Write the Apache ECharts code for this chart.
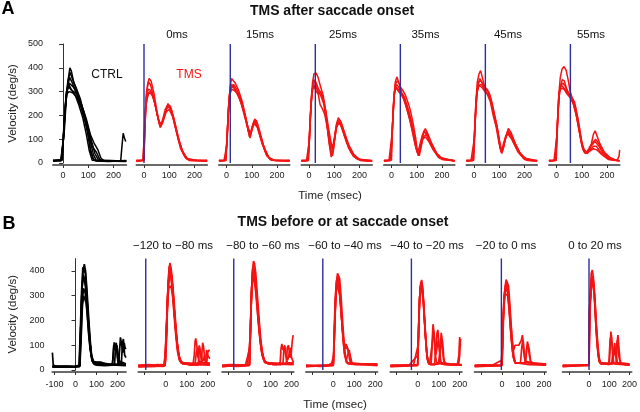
<!DOCTYPE html>
<html><head><meta charset="utf-8">
<script src="https://cdn.jsdelivr.net/npm/echarts@6/dist/echarts.min.js"></script>
<style>html,body{margin:0;padding:0;background:#fff}#c{width:640px;height:412px}</style>
</head><body><div id="c"></div>
<script>
// ---------- DATA (time ms, velocity deg/s) ----------
const tracesA1 = [
 [[-40,8],[-25,10],[-10,8],[-4,12],[4,120],[12,260],[20,350],[27,400],[33,385],[42,340],[55,300],[70,255],[85,195],[98,130],[108,60],[118,18],[130,8],[180,6],[228,8],[233,70],[238,125],[243,105],[248,90]],
 [[-40,10],[-8,12],[0,80],[8,230],[18,320],[26,360],[35,340],[50,300],[65,262],[80,220],[95,160],[108,90],[120,35],[132,10],[200,8],[250,10]],
 [[-40,12],[-6,10],[3,150],[12,280],[22,330],[32,310],[48,285],[62,245],[78,190],[92,120],[104,50],[115,12],[160,8],[250,8]],
 [[-40,8],[-4,14],[5,170],[14,290],[24,300],[38,295],[55,275],[72,230],[88,170],[103,110],[118,65],[132,45],[145,15],[160,8],[250,6]],
 [[-40,10],[-7,10],[2,110],[10,260],[19,345],[28,380],[38,350],[52,315],[68,270],[84,200],[98,120],[110,45],[122,12],[250,8]],
 [[-40,8],[-3,15],[6,200],[15,310],[25,335],[40,320],[58,290],[75,240],[92,185],[108,120],[122,85],[138,55],[150,20],[165,8],[250,8]],
 [[-40,9],[-5,12],[4,160],[13,300],[22,320],[34,305],[50,295],[66,260],[82,215],[98,150],[112,95],[126,40],[140,12],[250,8]]
];
const tracesA2 = [
 [[-30,8],[-10,10],[-2,12],[3,120],[8,260],[14,330],[20,355],[28,345],[40,290],[52,210],[62,160],[72,175],[84,225],[95,245],[106,230],[120,170],[138,90],[155,40],[172,15],[200,10],[250,8]],
 [[-30,10],[-3,12],[2,150],[6,230],[12,270],[20,295],[30,290],[42,255],[55,190],[65,150],[76,180],[90,230],[100,235],[112,205],[126,140],[145,60],[165,20],[190,10],[250,12]],
 [[-30,6],[0,14],[4,200],[10,300],[18,340],[26,330],[38,275],[50,215],[60,170],[70,165],[82,205],[95,250],[108,225],[124,160],[142,80],[160,30],[180,10],[250,8]],
 [[-30,12],[-5,10],[3,140],[8,240],[15,290],[24,300],[36,280],[48,230],[58,180],[68,160],[80,195],[92,240],[104,240],[118,190],[135,110],[152,50],[170,18],[210,12],[250,8]],
 [[-30,8],[0,10],[4,180],[10,280],[17,310],[27,305],[40,265],[54,195],[64,150],[74,170],[88,215],[100,225],[115,190],[132,120],[150,55],[170,20],[195,12],[250,10]]
];
const tracesA3 = [
 [[-30,8],[-10,10],[-4,14],[2,80],[8,220],[14,320],[20,355],[26,362],[35,335],[48,305],[62,260],[76,195],[88,130],[95,115],[104,160],[112,185],[122,165],[138,100],[155,45],[172,15],[200,10],[250,8]],
 [[-30,10],[-6,10],[0,60],[6,190],[12,290],[20,320],[30,315],[44,290],[58,250],[72,195],[85,140],[93,105],[102,145],[110,170],[120,160],[136,105],[152,55],[170,20],[195,10],[250,8]],
 [[-30,8],[-3,12],[3,120],[10,260],[18,315],[28,330],[40,310],[55,275],[70,215],[84,155],[94,125],[104,160],[114,175],[126,145],[142,80],[160,30],[180,12],[250,10]],
 [[-30,12],[-5,10],[2,100],[8,240],[16,300],[24,310],[36,300],[50,280],[64,235],[78,175],[90,120],[98,130],[108,175],[118,180],[130,140],[148,70],[166,25],[190,10],[250,12]],
 [[-30,8],[-2,10],[4,150],[11,280],[19,330],[27,325],[40,295],[54,265],[68,220],[82,160],[91,110],[100,140],[110,165],[122,150],[140,85],[158,35],[178,12],[250,8]]
];
const tracesA4 = [
 [[-30,8],[-10,10],[-4,14],[2,100],[8,240],[14,340],[20,375],[28,378],[36,360],[46,320],[56,285],[66,220],[76,120],[84,60],[92,35],[100,90],[108,160],[116,190],[126,175],[140,130],[158,75],[178,35],[200,15],[230,8],[250,8]],
 [[-30,10],[-6,10],[0,60],[6,200],[12,300],[18,340],[26,335],[36,300],[46,285],[58,250],[70,170],[80,80],[88,25],[96,50],[106,140],[116,175],[128,160],[142,110],[160,60],[182,25],[210,10],[250,8]],
 [[-30,8],[-3,12],[3,150],[10,280],[17,330],[25,310],[35,290],[45,300],[56,270],[68,210],[80,130],[90,70],[98,80],[108,150],[120,170],[134,140],[150,85],[170,40],[195,15],[250,10]],
 [[-30,12],[-5,10],[2,120],[8,250],[15,310],[24,330],[34,305],[44,245],[52,230],[62,205],[74,140],[85,60],[93,30],[102,100],[112,165],[124,165],[138,120],[156,65],[176,28],[205,10],[250,8]],
 [[-30,8],[-2,10],[4,170],[11,300],[19,350],[27,340],[38,310],[50,290],[62,240],[73,160],[83,95],[92,55],[101,110],[111,170],[121,180],[133,150],[148,95],[166,45],[188,18],[250,10]]
];
const tracesA5 = [
 [[-30,8],[-10,10],[-3,14],[3,130],[9,270],[15,340],[21,362],[27,355],[35,320],[45,305],[55,285],[65,255],[75,220],[85,170],[95,110],[102,55],[110,30],[118,70],[126,125],[134,145],[145,120],[160,80],[180,40],[205,15],[250,8]],
 [[-30,10],[-5,10],[1,90],[7,230],[13,310],[20,330],[28,320],[38,295],[50,280],[62,240],[74,195],[86,140],[97,70],[106,30],[114,60],[124,100],[134,110],[148,90],[165,55],[190,20],[250,10]],
 [[-30,8],[-2,12],[4,160],[11,290],[18,320],[26,310],[36,300],[48,270],[60,230],[72,185],[84,130],[94,75],[104,40],[113,80],[123,120],[133,130],[146,105],[162,65],[185,25],[250,8]],
 [[-30,12],[-4,10],[2,110],[8,250],[15,330],[23,345],[32,330],[42,290],[54,265],[66,225],[78,175],[90,110],[100,50],[108,35],[117,90],[128,135],[140,125],[155,90],[175,45],[200,15],[250,10]],
 [[-30,8],[0,14],[5,180],[12,300],[19,315],[28,300],[40,285],[52,260],[64,215],[76,165],[88,105],[98,60],[107,45],[116,75],[126,110],[137,120],[150,95],[168,55],[192,20],[250,8]]
];
const tracesA6 = [
 [[-30,8],[-12,10],[-5,14],[1,100],[7,250],[13,340],[20,375],[26,388],[33,360],[42,320],[52,310],[62,290],[72,250],[82,200],[92,150],[100,90],[108,45],[116,60],[126,110],[136,145],[146,130],[160,90],[180,45],[205,18],[230,10],[250,8]],
 [[-30,10],[-6,10],[0,70],[6,200],[12,300],[19,340],[27,345],[36,330],[46,310],[56,300],[66,270],[78,215],[90,160],[100,100],[108,55],[117,70],[128,115],[138,130],[150,115],[166,75],[186,35],[210,12],[250,8]],
 [[-30,8],[-3,12],[3,150],[10,280],[17,320],[25,330],[34,325],[44,300],[56,290],[68,255],[80,195],[92,140],[102,75],[110,40],[120,85],[131,125],[142,120],[156,85],[175,45],[200,15],[250,10]],
 [[-30,12],[-4,10],[2,120],[8,260],[15,330],[23,355],[31,340],[40,310],[50,295],[60,285],[72,240],[84,180],[96,120],[105,60],[113,50],[123,100],[134,135],[145,125],[160,85],[182,40],[208,12],[250,8]],
 [[-30,8],[-1,12],[5,180],[12,300],[20,325],[29,320],[40,305],[52,290],[64,260],[76,200],[88,150],[98,90],[106,50],[115,75],[126,115],[136,120],[150,100],[170,60],[195,22],[250,10]]
];
const tracesA7 = [
 [[-30,8],[-10,10],[-4,14],[2,120],[8,270],[15,360],[22,395],[30,405],[38,390],[46,350],[54,300],[62,275],[72,255],[82,200],[92,140],[100,90],[108,60],[118,45],[128,55],[138,80],[146,120],[153,135],[160,115],[172,80],[190,45],[210,25],[235,12],[250,10]],
 [[-30,10],[-6,10],[0,70],[6,210],[12,300],[19,330],[27,335],[36,320],[45,300],[55,280],[65,260],[75,235],[86,180],[96,110],[104,60],[114,40],[126,50],[140,75],[152,90],[165,75],[185,40],[210,18],[250,10]],
 [[-30,8],[-3,12],[3,160],[10,290],[17,330],[25,320],[34,310],[44,295],[56,275],[68,245],[80,190],[92,120],[101,70],[110,45],[122,40],[134,55],[146,70],[158,70],[175,45],[200,20],[250,8]],
 [[-30,12],[-4,10],[2,130],[8,260],[15,320],[23,350],[31,345],[40,310],[50,290],[62,270],[74,230],[86,160],[97,95],[106,55],[116,40],[128,60],[142,85],[155,100],[168,80],[188,40],[215,15],[240,10],[248,30],[250,55]],
 [[-30,8],[-1,12],[5,190],[12,300],[20,315],[30,310],[42,290],[54,275],[66,250],[78,205],[90,140],[100,80],[110,50],[120,45],[132,50],[146,60],[160,55],[180,35],[205,15],[250,8]]
];
const tracesB1 = [
 [[-110,70],[-106,20],[-90,15],[-50,14],[0,14],[18,20],[24,150],[30,300],[36,400],[42,428],[48,400],[54,330],[60,250],[66,170],[72,100],[78,50],[86,25],[100,20],[140,18],[175,20],[180,60],[184,112],[190,80],[196,100],[202,30],[210,25],[240,20]],
 [[-110,15],[-60,12],[0,15],[20,18],[26,140],[32,270],[38,330],[44,320],[50,290],[56,230],[62,160],[70,90],[78,40],[90,28],[115,30],[140,22],[205,25],[210,80],[214,132],[220,100],[226,70],[232,110],[236,90],[240,85]],
 [[-110,14],[-40,16],[0,12],[19,16],[25,170],[31,330],[37,385],[43,370],[49,340],[55,280],[61,200],[68,120],[75,60],[84,30],[120,25],[170,22],[186,25],[192,105],[198,95],[204,60],[210,35],[240,25]],
 [[-110,12],[0,14],[21,16],[27,130],[33,260],[39,300],[45,295],[51,270],[57,210],[63,140],[70,80],[80,35],[92,22],[160,20],[200,20],[218,22],[224,110],[228,125],[234,60],[240,50]],
 [[-110,16],[0,15],[17,18],[23,160],[29,320],[35,415],[41,420],[47,390],[53,320],[59,230],[65,150],[72,80],[80,35],[130,28],[176,22],[182,100],[188,90],[194,110],[200,50],[206,22],[240,22]],
 [[-110,14],[0,12],[20,14],[26,200],[32,350],[38,370],[44,355],[50,320],[56,260],[62,190],[68,120],[76,60],[88,30],[120,32],[150,22],[240,18]]
];
const tracesB2 = [
 [[-130,15],[-100,20],[-60,18],[-20,22],[-7,20],[0,40],[5,150],[10,300],[15,400],[20,432],[26,410],[32,360],[38,300],[44,230],[50,160],[56,100],[62,60],[70,35],[80,25],[130,22],[136,60],[140,115],[143,128],[148,100],[154,50],[160,100],[166,60],[172,30],[210,25]],
 [[-130,18],[-90,15],[-40,22],[-5,20],[2,100],[8,260],[14,360],[20,380],[26,370],[32,330],[38,270],[44,200],[50,140],[58,80],[66,45],[76,30],[120,25],[150,28],[170,30],[176,110],[180,95],[186,50],[192,30],[210,28]],
 [[-130,12],[-70,18],[-10,15],[1,80],[7,240],[13,350],[19,410],[25,400],[31,350],[37,290],[43,220],[50,150],[58,90],[66,50],[75,30],[110,22],[155,20],[160,95],[164,102],[170,60],[176,30],[195,25],[200,70],[205,80],[210,78]],
 [[-130,20],[-80,22],[-30,18],[-3,18],[4,180],[10,320],[16,390],[22,400],[28,380],[34,320],[40,250],[46,180],[54,110],[62,60],[72,35],[90,25],[125,20],[170,22],[190,30],[195,81],[200,60],[210,45]],
 [[-130,15],[-50,15],[-2,22],[3,140],[9,280],[15,330],[21,340],[27,330],[33,300],[40,240],[48,160],[56,90],[64,45],[74,28],[140,25],[146,70],[152,90],[158,40],[165,22],[210,20]],
 [[-130,18],[-4,18],[5,200],[11,340],[17,420],[23,415],[29,380],[35,310],[42,230],[50,140],[58,80],[66,45],[78,30],[150,25],[180,40],[185,60],[190,25],[210,20]],
 [[-130,14],[-6,16],[3,160],[9,300],[15,370],[21,390],[27,360],[33,300],[40,220],[48,140],[56,75],[66,38],[80,26],[210,22]]
];
const tracesB3 = [
 [[-130,15],[-80,18],[-30,20],[0,22],[4,140],[9,300],[14,400],[19,440],[24,430],[30,390],[36,320],[42,250],[48,180],[54,120],[62,70],[72,35],[90,25],[130,22],[146,30],[150,85],[154,105],[160,80],[166,95],[172,60],[180,30],[210,25]],
 [[-130,18],[-60,15],[-2,18],[3,110],[8,260],[13,360],[18,395],[24,385],[30,340],[37,270],[44,190],[52,120],[60,70],[70,38],[80,28],[120,25],[175,25],[180,90],[186,100],[192,50],[198,60],[204,120],[208,141],[210,140]],
 [[-130,14],[-40,20],[1,20],[5,170],[10,330],[15,410],[21,415],[27,380],[33,320],[40,240],[48,160],[56,95],[66,50],[76,32],[110,22],[150,22],[160,30],[164,90],[168,100],[174,60],[182,40],[190,70],[196,90],[200,50],[210,30]],
 [[-130,20],[-90,22],[0,20],[4,150],[9,310],[14,380],[20,380],[26,360],[32,310],[39,230],[46,160],[55,90],[64,50],[74,32],[100,28],[140,25],[210,30]],
 [[-130,16],[-20,18],[2,90],[7,230],[12,340],[17,370],[23,360],[29,320],[35,260],[42,190],[50,120],[58,70],[68,40],[80,28],[95,25],[210,22]],
 [[-130,15],[-10,20],[3,130],[8,280],[13,380],[18,420],[24,400],[30,350],[36,280],[43,200],[51,120],[60,60],[72,30],[210,24]]
];
const tracesB4 = [
 [[-130,15],[-70,18],[-20,20],[0,22],[5,130],[10,260],[15,350],[20,390],[25,397],[30,370],[36,310],[42,230],[48,150],[54,85],[60,45],[70,25],[110,22],[160,25],[210,20]],
 [[-130,18],[-60,15],[0,18],[4,100],[9,230],[14,320],[19,345],[25,340],[31,300],[37,240],[43,170],[49,120],[55,95],[61,105],[66,108],[72,80],[78,40],[86,25],[130,22],[210,22]],
 [[-130,14],[-10,20],[2,60],[7,200],[12,310],[18,370],[24,360],[30,320],[36,250],[42,180],[48,125],[56,85],[64,95],[72,70],[80,60],[86,30],[100,25],[210,18]],
 [[-130,20],[-30,18],[1,30],[6,170],[11,290],[17,340],[23,350],[29,320],[35,260],[41,190],[47,120],[54,65],[62,40],[70,65],[76,80],[82,50],[90,25],[210,22]],
 [[-130,16],[0,20],[4,150],[9,290],[15,360],[21,380],[27,360],[33,300],[39,220],[46,130],[53,65],[62,30],[150,24],[210,25]]
];
const tracesB5 = [
 [[-130,15],[-60,18],[0,20],[4,150],[9,290],[14,350],[19,364],[24,330],[30,250],[36,160],[42,80],[48,35],[56,22],[64,25],[68,100],[73,185],[78,150],[84,60],[90,30],[130,22],[190,25],[196,60],[200,133],[203,100]],
 [[-130,18],[-40,20],[1,60],[6,220],[11,320],[17,355],[22,340],[28,270],[34,180],[40,100],[46,45],[54,25],[80,22],[86,80],[92,150],[96,162],[100,120],[106,50],[112,25],[150,22],[210,20]],
 [[-130,14],[0,18],[3,120],[8,270],[13,340],[18,350],[24,320],[30,240],[36,150],[43,70],[50,30],[60,22],[100,25],[106,70],[112,150],[115,155],[119,110],[124,50],[130,25],[170,22],[210,22]],
 [[-130,20],[-20,20],[2,100],[7,250],[12,330],[18,345],[24,310],[30,230],[37,140],[44,60],[52,28],[64,25],[70,110],[75,160],[80,120],[86,60],[92,90],[98,120],[104,80],[110,30],[150,25],[195,22],[200,60],[204,125]],
 [[-130,16],[0,22],[5,170],[10,300],[15,340],[21,335],[27,280],[33,190],[39,110],[46,45],[55,24],[75,22],[100,25],[108,90],[113,120],[118,80],[124,35],[140,22],[210,20]]
];
const tracesB6 = [
 [[-130,15],[-60,18],[-10,20],[0,22],[4,120],[9,260],[15,340],[20,365],[25,370],[31,340],[37,270],[43,190],[50,110],[57,55],[64,30],[72,24],[130,22],[210,20]],
 [[-130,18],[-30,20],[0,20],[3,150],[6,205],[10,260],[16,320],[22,343],[28,330],[34,280],[41,200],[48,120],[55,80],[62,100],[70,102],[80,100],[86,98],[92,120],[97,141],[102,110],[108,50],[115,30],[160,25],[210,22]],
 [[-130,14],[0,18],[4,160],[9,280],[14,310],[20,316],[27,300],[33,250],[40,170],[47,100],[54,50],[62,30],[110,28],[116,70],[121,115],[125,121],[130,80],[136,35],[150,25],[210,22]],
 [[-130,20],[-40,22],[1,40],[5,200],[10,300],[16,335],[22,340],[28,310],[35,240],[42,150],[50,75],[58,40],[66,28],[88,30],[94,90],[99,120],[104,70],[110,35],[210,20]],
 [[-130,16],[-5,18],[2,90],[7,230],[13,320],[19,350],[25,340],[31,290],[38,210],[45,130],[53,60],[62,28],[112,30],[118,90],[124,105],[130,60],[138,28],[210,25]]
];
const tracesB7 = [
 [[-130,15],[-60,18],[-10,20],[0,22],[3,180],[7,320],[11,390],[16,404],[21,380],[27,300],[33,200],[39,120],[45,60],[52,30],[60,22],[100,22],[104,80],[108,155],[112,130],[118,50],[124,25],[200,20]],
 [[-130,18],[-40,20],[0,20],[1,150],[2,256],[5,262],[9,300],[14,350],[19,364],[25,330],[31,250],[37,160],[43,90],[50,40],[58,25],[118,25],[124,90],[127,109],[131,70],[137,30],[180,22],[200,22]],
 [[-130,14],[-1,20],[2,200],[6,300],[11,345],[17,360],[23,340],[29,270],[35,180],[42,100],[49,45],[57,28],[134,28],[140,120],[143,141],[147,100],[153,40],[160,25],[200,22]],
 [[-130,20],[0,18],[3,150],[7,280],[12,340],[18,350],[24,320],[30,240],[36,150],[43,80],[50,35],[60,25],[98,24],[104,120],[109,140],[114,100],[120,60],[126,90],[132,70],[140,30],[200,25]],
 [[-130,16],[0,22],[2,230],[4,250],[8,290],[13,370],[18,380],[24,350],[30,280],[36,190],[43,110],[50,50],[58,28],[112,25],[118,75],[124,60],[134,85],[140,120],[146,60],[155,28],[200,20]]
];
const pulseTimesA = [null, 0, 15, 25, 35, 45, 55];
const pulseTimesB = [null, -95, -75, -50, -30, -3, 0];
const panelLabelsA = ['', '0ms', '15ms', '25ms', '35ms', '45ms', '55ms'];
const panelLabelsB = ['', '\u2212120 to \u221280 ms', '\u221280 to \u221260 ms', '\u221260 to \u221240 ms', '\u221240 to \u221220 ms', '\u221220 to 0 ms', '0 to 20 ms'];
const yTicksA = [0, 100, 200, 300, 400, 500];
const yTicksB = [0, 100, 200, 300, 400];
const xTicksA = [0, 100, 200];
const xTicksB = [-100, 0, 100, 200];
const xLabelsB1 = [-100, 0, 100, 200];
const xLabelsB = [0, 100, 200];
const titleA = 'TMS after saccade onset';
const titleB = 'TMS before or at saccade onset';
const yName = 'Velocity (deg/s)';
const xName = 'Time (msec)';

// ---------- LAYOUT ----------
const FONT = '"Liberation Sans", Arial, Helvetica, sans-serif';
const RED = '#f41414', BLACK = '#000000', BLUE = '#2e2e9e';
const tracesA = [tracesA1, tracesA2, tracesA3, tracesA4, tracesA5, tracesA6, tracesA7];
const tracesB = [tracesB1, tracesB2, tracesB3, tracesB4, tracesB5, tracesB6, tracesB7];
const zerosB = [75.5, 165.7, 249.5, 333.3, 417.7, 502, 590];

const grids = [], xAxes = [], yAxes = [], series = [], graphics = [];

function addPanel(row, i) {
  let min, max, left, width, top, height, ymax, yTicks, xTicks, xLabels, scale;
  if (row === 'A') {
    scale = 0.2525;
    if (i === 0) { min = -40; max = 250; left = 53; }
    else { min = -30; max = 250; left = 144 + (i - 1) * 82.5 + min * scale; }
    top = 44; height = 119; ymax = 500; yTicks = yTicksA; xTicks = xTicksA; xLabels = xTicksA;
  } else {
    scale = 0.21;
    if (i === 0) { min = -110; max = 240; } else { min = -130; max = 210; }
    left = zerosB[i] + min * scale;
    top = 258.6; height = 111.4; ymax = 450; yTicks = yTicksB; xTicks = xTicksB;
    xLabels = i === 0 ? xLabelsB1 : xLabelsB;
  }
  width = (max - min) * scale;
  const gi = grids.length;
  grids.push({ left: left, top: top, width: width, height: height, containLabel: false });
  xAxes.push({
    type: 'value', gridIndex: gi, min: min, max: max, offset: 2,
    axisLine: { show: true, onZero: false, lineStyle: { color: '#6a6a6a', width: 2 } },
    axisTick: { show: true, customValues: xTicks, length: 3, lineStyle: { color: '#333', width: 1 } },
    axisLabel: { show: true, customValues: xLabels, fontSize: 9, color: '#222', fontFamily: FONT, margin: row === 'A' ? 6 : 8 },
    splitLine: { show: false }
  });
  const yAx = {
    type: 'value', gridIndex: gi, min: 0, max: ymax, show: i === 0,
    offset: row === 'A' ? 3 : 1,
    axisLine: { show: true, lineStyle: { color: '#333', width: 1 } },
    axisTick: { show: true, customValues: yTicks, length: 4, lineStyle: { color: '#333' } },
    axisLabel: { show: true, customValues: yTicks, fontSize: 9, color: '#222', fontFamily: FONT, margin: 7 },
    splitLine: { show: false }
  };
  if (i === 0) {
    yAx.name = yName; yAx.nameLocation = 'middle'; yAx.nameGap = row === 'A' ? 31 : 33;
    yAx.nameTextStyle = { fontSize: 11.5, color: '#222', fontFamily: FONT };
  }
  yAxes.push(yAx);
  const traces = row === 'A' ? tracesA[i] : tracesB[i];
  const color = i === 0 ? BLACK : RED;
  const lw = row === 'A' ? 1.5 : 1.7;
  traces.forEach(tr => series.push({
    type: 'line', xAxisIndex: gi, yAxisIndex: gi, data: tr, showSymbol: false, symbol: 'none',
    silent: true, animation: false, lineStyle: { color: color, width: lw }, z: 2
  }));
  const pt = row === 'A' ? pulseTimesA[i] : pulseTimesB[i];
  if (pt !== null) {
    series.push({
      type: 'line', xAxisIndex: gi, yAxisIndex: gi, data: [[pt, 0], [pt, ymax]], showSymbol: false, symbol: 'none',
      silent: true, animation: false, lineStyle: { color: BLUE, width: 1.4 }, z: 3
    });
  }
}
for (let i = 0; i < 7; i++) addPanel('A', i);
for (let i = 0; i < 7; i++) addPanel('B', i);

function txt(text, x, y, size, color, bold) {
  graphics.push({ type: 'text', x: x, y: y, silent: true, style: {
    text: text, fill: color, font: (bold ? 'bold ' : '') + size + 'px ' + FONT,
    textAlign: 'center', textVerticalAlign: 'middle', align: 'center', verticalAlign: 'middle' } });
}
txt('A', 8, 9, 18, '#000', true);
txt('B', 9, 224, 18, '#000', true);
txt(titleA, 332, 11, 14, '#111', true);
txt(titleB, 343, 222, 14, '#111', true);
const labXA = [0, 177, 260, 343, 425.5, 508, 591];
const labXB = [0, 173, 263, 345, 427, 506, 595];
for (let i = 1; i < 7; i++) { txt(panelLabelsA[i], labXA[i], 35, 11.5, '#111', false); txt(panelLabelsB[i], labXB[i], 246, 11.5, '#111', false); }
txt('CTRL', 107, 75, 12, '#111', false);
txt('TMS', 189, 75, 12, RED, false);
txt(xName, 330, 196, 11.5, '#222', false);
txt(xName, 335, 405, 11.5, '#222', false);

const chart = echarts.init(document.getElementById('c'), null, { renderer: 'canvas' });
chart.setOption({
  animation: false, backgroundColor: '#fff',
  grid: grids, xAxis: xAxes, yAxis: yAxes, series: series, graphic: graphics
});
</script></body></html>
